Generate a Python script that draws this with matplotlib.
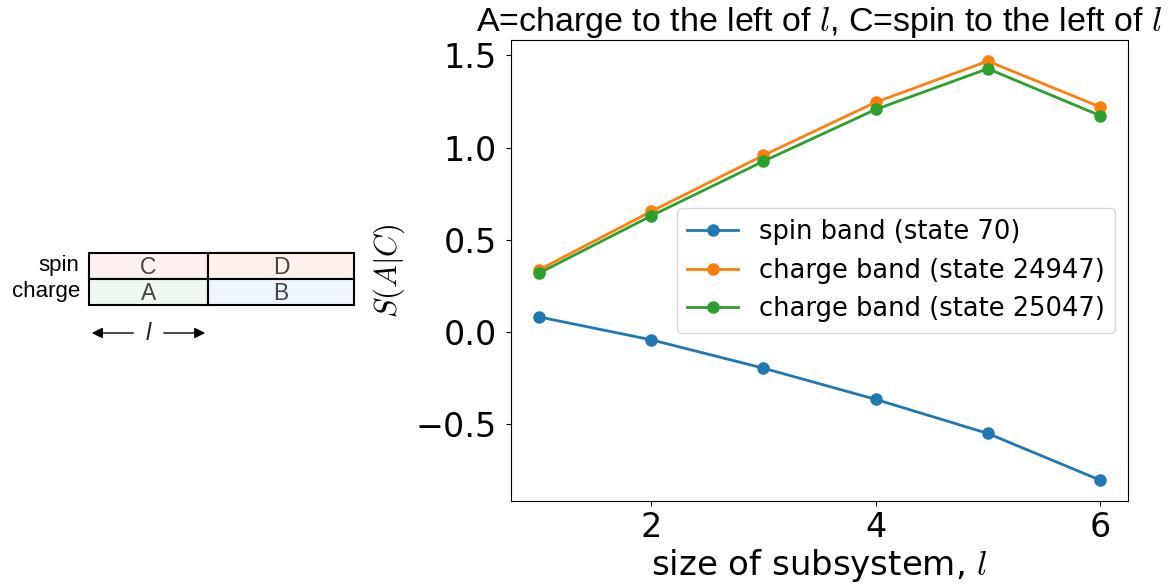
import matplotlib
matplotlib.use('Agg')
import matplotlib.pyplot as plt
from matplotlib.patches import Rectangle

plt.rcParams['mathtext.fontset'] = 'cm'

# subsystem size
sizes = [1, 2, 3, 4, 5, 6]

# conditional entropy S(A|C)
spin_70 = [0.081, -0.043, -0.197, -0.366, -0.551, -0.804]
charge_24947 = [0.337, 0.654, 0.958, 1.246, 1.469, 1.221]
charge_25047 = [0.319, 0.630, 0.926, 1.207, 1.428, 1.174]

labels = ['spin band (state 70)', 'charge band (state 24947)', 'charge band (state 25047)']

fig = plt.figure(figsize=(11.75, 5.87), dpi=100)

# sketch of the subsystems on the left (pixel units)
ax0 = fig.add_axes([0, 0, 1, 1])
ax0.set_xlim(0, 1175)
ax0.set_ylim(587, 0)
ax0.axis('off')
cells = [(89, 253, 119, 'C', '#fdf0f0'), (208, 253, 146, 'D', '#fdf3ec'),
         (89, 279, 119, 'A', '#eff8ee'), (208, 279, 146, 'B', '#eef4fb')]
for x0, y0, w, txt, fc in cells:
    ax0.add_patch(Rectangle((x0, y0), w, 26, facecolor=fc, edgecolor='black', lw=1.5))
    ax0.text(x0 + w/2, y0 + 14, txt, ha='center', va='center', fontsize=16.5,
             color='#444444', family='Liberation Sans')
ax0.text(79, 266, 'spin', ha='right', va='center', fontsize=16, family='Liberation Sans')
ax0.text(80, 292, 'charge', ha='right', va='center', fontsize=16, family='Liberation Sans')
ax0.annotate('', xy=(89, 333), xytext=(136, 333),
             arrowprops=dict(arrowstyle='-|>', color='black', lw=1, mutation_scale=16))
ax0.annotate('', xy=(208, 333), xytext=(161, 333),
             arrowprops=dict(arrowstyle='-|>', color='black', lw=1, mutation_scale=16))
ax0.text(148, 333, 'l', ha='center', va='center', fontsize=17, style='italic',
         family='Liberation Sans', color='#222222')

ax = fig.add_axes([0.435, 0.1465, 0.525, 0.785])
ax.plot(sizes, spin_70, 'o-', lw=2, ms=8, label=labels[0])
ax.plot(sizes, charge_24947, 'o-', lw=2, ms=8, label=labels[1])
ax.plot(sizes, charge_25047, 'o-', lw=2, ms=8, label=labels[2])
ax.set_xticks([2, 4, 6])
ax.set_yticks([-0.5, 0.0, 0.5, 1.0, 1.5])
ax.tick_params(labelsize=24)
ax.tick_params(axis='y', pad=7)
ax.set_xlabel('size of subsystem, $l$', fontsize=24.5, labelpad=2)
ax.set_ylabel('$S(A|C)$', fontsize=22, labelpad=6)
ax.set_title('A=charge to the left of $l$, C=spin to the left of $l$',
             fontsize=24.5, family='Liberation Sans', pad=4)
ax.legend(fontsize=18.5, loc='center right')

fig.savefig('out.png', dpi=100)
